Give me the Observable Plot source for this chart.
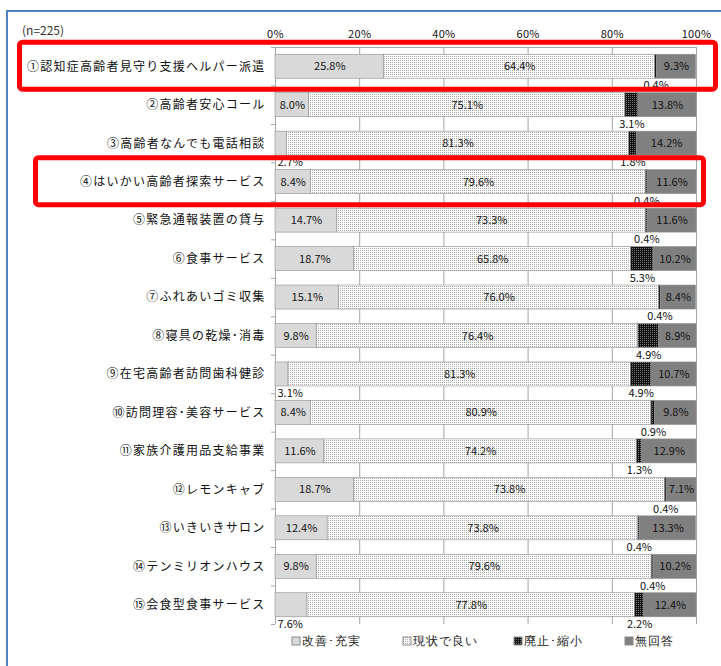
<!DOCTYPE html>
<html lang="ja">
<head>
<meta charset="utf-8">
<script src="https://cdn.jsdelivr.net/npm/d3@7"></script>
<script src="https://cdn.jsdelivr.net/npm/@observablehq/plot@0.6"></script>
<style>
  html, body { margin: 0; padding: 0; background: #fff; }
  body { width: 721px; height: 666px; position: relative; overflow: hidden;
         font-family: "Noto Sans CJK JP", "Noto Sans", sans-serif; }
  #frame { position: absolute; left: 6px; top: 10px; width: 900px; height: 900px;
           border-left: 2px solid #4f81bd; border-top: 2px solid #4f81bd; }
  #n { position: absolute; left: 22px; top: 21px; font-size: 12px; color: #333; }
  #chart { position: absolute; left: 0; top: 0; }
  #legend { position: absolute; left: 292px; top: 624px; width: 470px; }
  #chart g[aria-label="y-axis tick label"] text { letter-spacing: 1.25px; }
  #chart g[aria-label="value-label"] text { letter-spacing: 0.5px; }
  #chart g[aria-label="x-axis tick label"] text { letter-spacing: 0.3px; }
  .lg-swatches { margin: 0 !important; }
  .lg-swatch { width: 111px; margin-right: 0 !important; font-size: 12px; letter-spacing: 1px; color: #222; }
  .lg-swatch > svg { margin-right: 2px !important; }
  .lg-swatch svg rect { stroke: #8a8a8a; stroke-width: 1px; }
</style>
</head>
<body>
<!-- fill patterns shared by the bars and the legend swatches -->
<svg width="0" height="0" style="position:absolute">
  <defs>
    <pattern id="dots" width="2" height="2" patternUnits="userSpaceOnUse">
      <rect width="2" height="2" fill="#ffffff"></rect>
      <rect width="1" height="1" fill="#a9a9a9"></rect>
    </pattern>
    <pattern id="darkdots" width="2" height="2" patternUnits="userSpaceOnUse">
      <rect width="2" height="2" fill="#111111"></rect>
      <rect width="1" height="1" fill="#7a7a7a"></rect>
    </pattern>
  </defs>
</svg>
<div id="frame"></div>
<div id="n">(n=225)</div>
<div id="chart"></div>
<div id="legend"></div>
<script>
// Services surveyed (top to bottom)
const categories = [
  "①認知症高齢者見守り支援ヘルパー派遣",
  "②高齢者安心コール",
  "③高齢者なんでも電話相談",
  "④はいかい高齢者探索サービス",
  "⑤緊急通報装置の貸与",
  "⑥食事サービス",
  "⑦ふれあいゴミ収集",
  "⑧寝具の乾燥･消毒",
  "⑨在宅高齢者訪問歯科健診",
  "⑩訪問理容･美容サービス",
  "⑪家族介護用品支給事業",
  "⑫レモンキャブ",
  "⑬いきいきサロン",
  "⑭テンミリオンハウス",
  "⑮会食型食事サービス"
];

// Response categories, in stacking order
const series = ["改善･充実", "現状で良い", "廃止･縮小", "無回答"];

// Percentages per service for each response
const improve   = [25.8, 8.0, 2.7, 8.4, 14.7, 18.7, 15.1, 9.8, 3.1, 8.4, 11.6, 18.7, 12.4, 9.8, 7.6];
const keep      = [64.4, 75.1, 81.3, 79.6, 73.3, 65.8, 76.0, 76.4, 81.3, 80.9, 74.2, 73.8, 73.8, 79.6, 77.8];
const reduce    = [0.4, 3.1, 1.8, 0.4, 0.4, 5.3, 0.4, 4.9, 4.9, 0.9, 1.3, 0.4, 0.4, 0.4, 2.2];
const noAnswer  = [9.3, 13.8, 14.2, 11.6, 11.6, 10.2, 8.4, 8.9, 10.7, 9.8, 12.9, 7.1, 13.3, 10.2, 12.4];

// Axis ticks (percent)
const xTicks = [0, 20, 40, 60, 80, 100];

// Services outlined in red
const highlighted = [categories[0], categories[3]];

// ---- styling ----
const fills = ["#d9d9d9", "url(#dots)", "url(#darkdots)", "#808080"];
const gridColor = "#a6a6a6";

// Build stacked rows (x1/x2 as cumulative percentages)
const valuesBySeries = [improve, keep, reduce, noAnswer];
const rows = [];
categories.forEach((cat, i) => {
  let acc = 0;
  series.forEach((s, j) => {
    const v = valuesBySeries[j][i];
    rows.push({cat, series: s, value: v, x1: acc, x2: acc + v});
    acc += v;
  });
});

// Small segments get their label under the bar
const isBelow = d => d.series === series[2] || (d.series === series[0] && d.value < 8);
const inside = rows.filter(d => !isBelow(d));
const belowMid = rows.filter(d => d.series === series[2]);
const belowLeft = rows.filter(d => d.series === series[0] && d.value < 8);
const fmt = d => d.value.toFixed(1) + "%";

const W = 721, H = 630;
const mTop = 47, mBottom = 6, mLeft = 275, mRight = 25;
const step = (H - mTop - mBottom) / categories.length;

const plot = Plot.plot({
  width: W,
  height: H,
  marginTop: mTop,
  marginBottom: mBottom,
  marginLeft: mLeft,
  marginRight: mRight,
  style: {fontFamily: "'Noto Sans CJK JP', 'Noto Sans', sans-serif", fontSize: "11px", color: "#111", background: "transparent"},
  x: {domain: [0, 100], axis: null},
  y: {domain: categories, paddingInner: 0.376, paddingOuter: 0.188, round: false, axis: null},
  color: {domain: series, range: fills},
  marks: [
    Plot.gridX(xTicks.slice(1), {stroke: gridColor, strokeOpacity: 1}),
    Plot.ruleX([0], {stroke: gridColor}),
    Plot.frame({anchor: "top", stroke: gridColor}),
    Plot.barX(rows, {x1: "x1", x2: "x2", y: "cat", fill: "series", stroke: "#8f8f8f", strokeWidth: 0.6}),
    Plot.axisX({anchor: "top", ticks: xTicks, tickFormat: d => d + "%", tickSize: 0, tickPadding: 10, fontSize: 11, label: null}),
    Plot.axisY({anchor: "left", tickSize: 0, tickPadding: 10, fontSize: 12, label: null}),
    Plot.axisY({anchor: "left", tickSize: 4, tickFormat: () => "", dy: step / 2, stroke: gridColor, label: null}),
    Plot.axisY([categories[0]], {anchor: "left", tickSize: 4, tickFormat: () => "", dy: -step / 2, stroke: gridColor, label: null}),
    Plot.text(inside, {x: d => (d.x1 + d.x2) / 2, y: "cat", text: fmt, fill: "#111", ariaLabel: "value-label"}),
    Plot.text(belowMid, {x: d => (d.x1 + d.x2) / 2, y: "cat", dy: step / 2, text: fmt, fill: "#111", ariaLabel: "value-label"}),
    Plot.text(belowLeft, {x: "x1", y: "cat", dy: step / 2, dx: 2, textAnchor: "start", text: fmt, fill: "#111", ariaLabel: "value-label"})
  ]
});

document.getElementById("chart").append(plot);

// White boxes behind the value labels
const ns = "http://www.w3.org/2000/svg";
plot.querySelectorAll('g[aria-label="value-label"] text').forEach(t => {
  const b = t.getBBox();
  const r = document.createElementNS(ns, "rect");
  r.setAttribute("x", b.x - 3);
  r.setAttribute("y", b.y - 0.5);
  r.setAttribute("width", b.width + 6);
  r.setAttribute("height", b.height + 1);
  r.setAttribute("fill", "#fff");
  const tr = t.getAttribute("transform");
  if (tr) r.setAttribute("transform", tr);
  t.parentNode.insertBefore(r, t);
});

// Red outlines around the highlighted services
const y = plot.scale("y");
const boxX = [[19.5, 715.5], [35.5, 703.5]];
highlighted.forEach((cat, k) => {
  const top = y.apply(cat);
  const r = document.createElementNS(ns, "rect");
  r.setAttribute("x", boxX[k][0]);
  r.setAttribute("y", top - 12);
  r.setAttribute("width", boxX[k][1] - boxX[k][0]);
  r.setAttribute("height", y.bandwidth + 23);
  r.setAttribute("rx", 3);
  r.setAttribute("fill", "none");
  r.setAttribute("stroke", "#ff0000");
  r.setAttribute("stroke-width", 5);
  plot.appendChild(r);
});

// Legend
document.getElementById("legend").append(
  Plot.legend({color: {domain: series, range: fills, type: "ordinal"}, swatchSize: 8, className: "lg"})
);
</script>
</body>
</html>
